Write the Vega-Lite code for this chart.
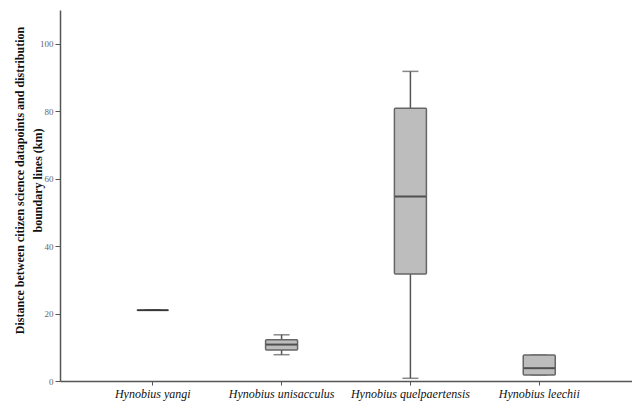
{
  "$schema": "https://vega.github.io/schema/vega-lite/v6.json",
  "width": 572,
  "height": 371,
  "autosize": "none",
  "padding": {"left": 60, "top": 10, "right": 0, "bottom": 20},
  "background": "white",
  "config": {
    "view": {"stroke": null},
    "font": "Times New Roman, Liberation Serif, serif"
  },
  "data": {"values": [
    {"species": "Hynobius yangi", "lower": 21, "q1": 21, "median": 21, "q3": 21, "upper": 21},
    {"species": "Hynobius unisacculus", "lower": 7.8, "q1": 9.2, "median": 10.8, "q3": 12.2, "upper": 13.7},
    {"species": "Hynobius quelpaertensis", "lower": 0.8, "q1": 31.7, "median": 54.7, "q3": 80.9, "upper": 91.8},
    {"species": "Hynobius leechii", "lower": 1.8, "q1": 1.8, "median": 3.8, "q3": 7.7, "upper": 7.7}
  ]},
  "encoding": {
    "x": {
      "field": "species", "type": "nominal", "sort": null,
      "scale": {"paddingOuter": 0.22, "paddingInner": 0},
      "axis": {
        "title": null, "labelAngle": 0, "labelFont": "Times New Roman, Liberation Serif, serif", "labelFontStyle": "italic",
        "labelFontSize": 12, "labelColor": "#111", "domainColor": "#555", "domainWidth": 1.5,
        "tickColor": "#555", "tickSize": 4, "labelPadding": 3
      }
    }
  },
  "layer": [
    {
      "mark": {"type": "rule", "color": "#555", "strokeWidth": 1.5},
      "encoding": {
        "y": {
          "field": "lower", "type": "quantitative",
          "scale": {"domain": [0, 110], "nice": false},
          "axis": {
            "title": ["Distance between citizen science datapoints and distribution", "boundary lines (km)"],
            "titleFont": "Times New Roman, Liberation Serif, serif", "titleFontWeight": "bold", "titleFontSize": 12, "titleColor": "#111",
            "titleX": -34, "titleY": 170, "titleAngle": -90, "titleLineHeight": 18,
            "values": [0, 20, 40, 60, 80, 100], "grid": false,
            "labelFont": "Times New Roman, Liberation Serif, serif",
            "labelFontSize": 9, "labelColor": "#666", "domainColor": "#555", "domainWidth": 1.5,
            "tickColor": "#555", "tickSize": 5, "labelPadding": 2
          }
        },
        "y2": {"field": "upper"}
      }
    },
    {
      "mark": {"type": "tick", "color": "#555", "size": 16, "thickness": 1.5},
      "encoding": {"y": {"field": "lower", "type": "quantitative"}}
    },
    {
      "mark": {"type": "tick", "color": "#555", "size": 16, "thickness": 1.5},
      "encoding": {"y": {"field": "upper", "type": "quantitative"}}
    },
    {
      "mark": {"type": "bar", "width": 32, "fill": "#bdbdbd", "stroke": "#666", "strokeWidth": 1.5, "cornerRadius": 1},
      "encoding": {
        "y": {"field": "q1", "type": "quantitative"},
        "y2": {"field": "q3"}
      }
    },
    {
      "mark": {"type": "tick", "color": "#222", "size": 31, "thickness": 2},
      "encoding": {"y": {"field": "median", "type": "quantitative"}}
    }
  ]
}
